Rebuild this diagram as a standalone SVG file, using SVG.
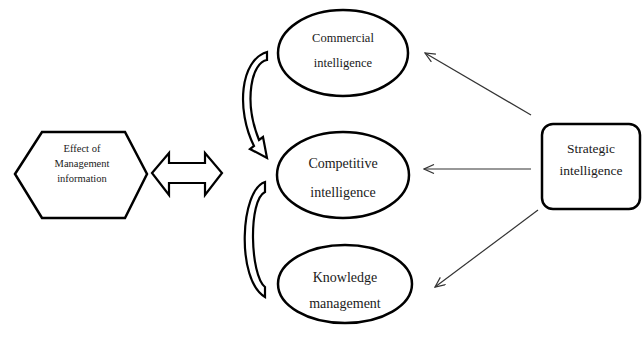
<svg xmlns="http://www.w3.org/2000/svg" width="643" height="340" viewBox="0 0 643 340">
<style>
.shape{fill:#fff;stroke:#000;stroke-width:2.5}
.band{fill:#fff;stroke:#000;stroke-width:2.2;stroke-linejoin:miter}
.lbl{fill:#1a1a1a;text-anchor:middle}
.conn{stroke:#333;stroke-width:1.2;fill:none}
</style>
<defs>
<marker id="ah" markerWidth="12" markerHeight="10" refX="11" refY="5" orient="auto" markerUnits="userSpaceOnUse">
<path d="M1,0.5 L11,5 L1,9.5" fill="none" stroke="#333" stroke-width="1.2"/>
</marker>
</defs>
<rect width="643" height="340" fill="#fff"/>
<g font-family="'Liberation Serif', 'Times New Roman', 'DejaVu Serif', serif">
<g id="node-effect">
<polygon class="shape" points="15,174 42,132 125,132 147,174 125,218 42,218"/>
<text class="lbl" font-size="10.5" x="82" y="152">Effect of</text>
<text class="lbl" font-size="10.5" x="82" y="167">Management</text>
<text class="lbl" font-size="10.5" x="82" y="182">information</text>
</g>
<g id="node-commercial">
<ellipse class="shape" cx="343" cy="53" rx="65" ry="43"/>
<text class="lbl" font-size="12.5" x="343" y="42">Commercial</text>
<text class="lbl" font-size="12.5" x="343" y="67">intelligence</text>
</g>
<g id="node-competitive">
<ellipse class="shape" cx="343" cy="175" rx="66" ry="43"/>
<text class="lbl" font-size="14" x="343" y="168">Competitive</text>
<text class="lbl" font-size="14" x="343" y="197">intelligence</text>
</g>
<g id="node-knowledge">
<ellipse class="shape" cx="345" cy="284" rx="67" ry="39"/>
<text class="lbl" font-size="14" x="345" y="282">Knowledge</text>
<text class="lbl" font-size="14" x="345" y="308">management</text>
</g>
<g id="node-strategic">
<rect class="shape" x="542" y="124" width="98" height="85" rx="11"/>
<text class="lbl" font-size="13.5" x="591" y="153">Strategic</text>
<text class="lbl" font-size="13.5" x="591" y="175">intelligence</text>
</g>
</g>
<g id="connectors">
<polygon class="band" points="152,173 169,153 169,163 205,163 205,153 222,173 205,195 205,183 169,183 169,195"/>
<path class="band" d="M267 52 L267 60 C252 62,243 100,259 140 L263 137 L267 158 L250 149 L254 146 C236 110,240 60,267 52 Z"/>
<path class="band" d="M265 182 C240 190,236 280,265 297 L265 287 C250 275,248 200,265 192 Z"/>
<line class="conn" x1="531" y1="115" x2="425" y2="53" marker-end="url(#ah)"/>
<line class="conn" x1="531" y1="169" x2="424" y2="169" marker-end="url(#ah)"/>
<line class="conn" x1="538" y1="210" x2="435" y2="287" marker-end="url(#ah)"/>
</g>
</svg>
